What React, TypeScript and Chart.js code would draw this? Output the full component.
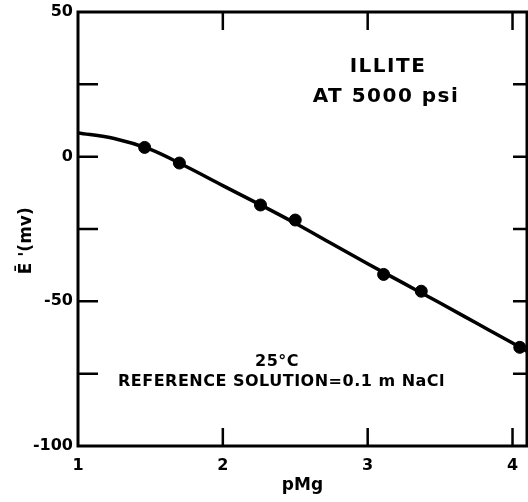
import React, { useEffect, useRef } from 'react';
import { Chart, registerables } from 'chart.js';
Chart.register(...registerables);

// Measured points (pMg, E' in mV)
const pointX = [1.46, 1.7, 2.26, 2.5, 3.11, 3.37, 4.05];
const pointY = [3.2, -2.2, -16.7, -21.9, -40.7, -46.5, -65.9];
// Smooth fitted curve
const curveX = [1, 1.25, 1.5, 1.75, 2, 2.25, 2.5, 2.75, 3, 3.25, 3.5, 3.75, 4, 4.1];
const curveY = [8.2, 6.3, 2.5, -3.5, -10, -16.4, -23, -30, -37, -43.8, -50.6, -57.5, -64.4, -67.2];

const xTicks = [1, 2, 3, 4];
const yTicks = [-100, -75, -50, -25, 0, 25, 50];
const yLabelled = [-100, -50, 0, 50];

const xTitle = 'pMg';
const yTitle = "Ē '(mv)    ";
const titleLines = ['ILLITE', 'AT 5000 psi'];
const tempLabel = '25°C';
const refLabel = 'REFERENCE SOLUTION=0.1 m NaCl';

const FONT = '"DejaVu Sans", sans-serif';

const framePlugin = {
  id: 'frame',
  afterDraw(chart: any) {
    const { ctx, chartArea } = chart;
    const { left, right, top, bottom } = chartArea;
    const xs = chart.scales.x;
    const ys = chart.scales.y;
    ctx.save();
    ctx.strokeStyle = '#000';
    ctx.lineWidth = 3;
    ctx.strokeRect(left, top, right - left, bottom - top);
    ctx.lineWidth = 2.5;
    ctx.beginPath();
    yTicks.forEach((v) => {
      if (v === -100 || v === 50) return;
      const y = ys.getPixelForValue(v);
      ctx.moveTo(left, y);
      ctx.lineTo(left + 20, y);
      ctx.moveTo(right, y);
      ctx.lineTo(right - 14, y);
    });
    xTicks.forEach((v) => {
      if (v === 1) return;
      const x = xs.getPixelForValue(v);
      ctx.moveTo(x, bottom);
      ctx.lineTo(x, bottom - 18);
      ctx.moveTo(x, top);
      ctx.lineTo(x, top + 18);
    });
    ctx.stroke();

    ctx.fillStyle = '#000';
    ctx.textBaseline = 'middle';
    ctx.textAlign = 'center';
    ctx.font = `bold 20px ${FONT}`;
    (ctx as any).letterSpacing = '1.5px';
    ctx.fillText(titleLines[0], 388, 67);
    ctx.fillText(titleLines[1], 386, 97);
    ctx.font = `bold 16px ${FONT}`;
    (ctx as any).letterSpacing = '0.5px';
    ctx.fillText(tempLabel, 277, 362);
    ctx.textAlign = 'left';
    ctx.fillText(refLabel, 118, 382);
    ctx.restore();
  },
};

export default function App() {
  const ref = useRef<HTMLCanvasElement | null>(null);
  useEffect(() => {
    document.body.style.margin = '0';
    const chart = new Chart(ref.current as HTMLCanvasElement, {
      type: 'scatter',
      data: {
        datasets: [
          {
            data: pointX.map((x, i) => ({ x, y: pointY[i] })),
            pointRadius: 6,
            pointBackgroundColor: '#000',
            pointBorderColor: '#000',
            showLine: false,
            clip: false as any,
          },
          {
            data: curveX.map((x, i) => ({ x, y: curveY[i] })),
            showLine: true,
            pointRadius: 0,
            borderColor: '#000',
            borderWidth: 3.5,
            cubicInterpolationMode: 'monotone',
          },
        ],
      },
      options: {
        animation: false,
        responsive: false,
        devicePixelRatio: 1,
        layout: { autoPadding: false, padding: { top: 12, right: 1, left: 0, bottom: 0 } },
        plugins: { legend: { display: false }, tooltip: { enabled: false } },
        scales: {
          x: {
            type: 'linear',
            min: 1,
            max: 4.1,
            afterBuildTicks: (s: any) => {
              s.ticks = xTicks.map((v) => ({ value: v }));
            },
            afterFit: (s: any) => {
              s.height = 56;
              s.paddingLeft = 0;
              s.paddingRight = 0;
            },
            grid: { display: false, drawTicks: false },
            border: { display: false },
            ticks: {
              color: '#000',
              font: { family: FONT, size: 16, weight: 'bold' },
              padding: 10,
              maxRotation: 0,
              callback: (v: any) => String(v),
            },
            title: {
              display: true,
              text: xTitle,
              color: '#000',
              font: { family: FONT, size: 17, weight: 'bold' },
              padding: { top: 0, bottom: 6 },
            },
          },
          y: {
            type: 'linear',
            min: -100,
            max: 50,
            afterBuildTicks: (s: any) => {
              s.ticks = yTicks.map((v) => ({ value: v }));
            },
            afterFit: (s: any) => {
              s.width = 78;
              s.paddingTop = 0;
              s.paddingBottom = 0;
            },
            grid: { display: false, drawTicks: false },
            border: { display: false },
            ticks: {
              color: '#000',
              font: { family: FONT, size: 16, weight: 'bold' },
              padding: 5,
              callback: (v: any) => (yLabelled.includes(v) ? String(v) : ''),
            },
            title: {
              display: true,
              text: yTitle,
              color: '#000',
              font: { family: FONT, size: 17, weight: 'bold' },
              padding: { top: 16, bottom: 0 },
            },
          },
        },
      },
      plugins: [framePlugin],
    } as any);
    return () => chart.destroy();
  }, []);
  return (
    <div style={{ width: 528, height: 502 }}>
      <canvas ref={ref} width={528} height={502} />
    </div>
  );
}
